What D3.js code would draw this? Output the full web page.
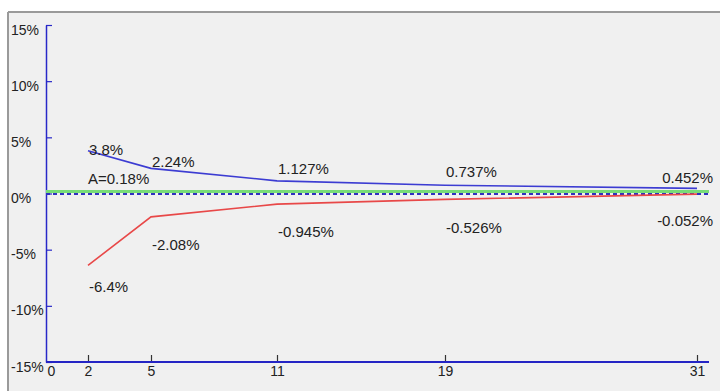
<!DOCTYPE html>
<html>
<head>
<meta charset="utf-8">
<script src="https://cdn.jsdelivr.net/npm/d3@7"></script>
<style>
  html, body { margin: 0; padding: 0; background: #fff; }
  svg { display: block; font-family: "Liberation Sans", Arial, sans-serif; }
</style>
</head>
<body>
<svg id="chart" width="720" height="391"></svg>
<script>
// data
var xTicks = [0, 2, 5, 11, 19, 31],
    yTicks = [15, 10, 5, 0, -5, -10, -15],
    nValues = [2, 5, 11, 19, 31],
    upperValues = [3.8, 2.24, 1.127, 0.737, 0.452],   // blue line, %
    lowerValues = [-6.4, -2.08, -0.945, -0.526, -0.052], // red line, %
    averageValue = 0.18; // green line, %

// label placement (pixels relative to the point)
var upperDy = [4, -1, -7, -8, -5],
    lowerDy = [27, 33, 33, 34, 32];

var svg = d3.select('#chart'),
    W = 720, H = 391;

var x = d3.scaleLinear().domain([0, 31]).range([46, 697]),
    y = d3.scaleLinear().domain([-15, 15]).range([362, 25]),
    xEnd = x(31) + 12;

// panel background + frame
svg.append('rect').attr('x', 8).attr('y', 12).attr('width', W - 8).attr('height', H - 12)
  .attr('fill', '#f0f0f0');
svg.append('line').attr('x1', 8).attr('x2', W).attr('y1', 12).attr('y2', 12)
  .attr('stroke', '#9a9a9a').attr('stroke-width', 2);
svg.append('line').attr('x1', 8).attr('x2', 8).attr('y1', 12).attr('y2', H)
  .attr('stroke', '#9a9a9a').attr('stroke-width', 2);

// y axis
var gy = svg.append('g')
  .attr('transform', 'translate(' + x(0) + ',0)')
  .call(d3.axisLeft(y).tickValues(yTicks).tickSizeInner(-6).tickSizeOuter(0)
    .tickFormat(function(d) { return d + '%'; }));
gy.select('.domain').attr('stroke', '#2828c8').attr('stroke-width', 1.5);
gy.selectAll('.tick line').attr('stroke', '#2828c8').attr('stroke-width', 1.2);
gy.selectAll('.tick text')
  .attr('x', 11 - x(0)).attr('dy', null).attr('y', 9)
  .attr('text-anchor', 'start').attr('fill', '#222').attr('font-size', 14)
  .attr('font-family', '"Liberation Sans", Arial, sans-serif');

// x axis
var gx = svg.append('g')
  .attr('transform', 'translate(0,' + y(-15) + ')')
  .call(d3.axisBottom(x).tickValues(xTicks).tickSizeInner(-7).tickSizeOuter(0)
    .tickFormat(d3.format('d')));
gx.select('.domain').remove();
gx.selectAll('.tick line').attr('stroke', '#333').attr('stroke-width', 1.2)
  .filter(function(d) { return d === 0; }).remove();
gx.selectAll('.tick text')
  .attr('y', 14).attr('dy', null).attr('fill', '#222').attr('font-size', 14)
  .attr('font-family', '"Liberation Sans", Arial, sans-serif')
  .attr('dx', function(d) { return d === 0 ? 5 : 0; });
svg.append('line')
  .attr('x1', x(0)).attr('x2', xEnd).attr('y1', y(-15)).attr('y2', y(-15))
  .attr('stroke', '#2424c4').attr('stroke-width', 2);

// average (green) and zero (dashed) lines
svg.append('line')
  .attr('x1', x(0)).attr('x2', xEnd).attr('y1', y(averageValue)).attr('y2', y(averageValue))
  .attr('stroke', '#78dc78').attr('stroke-width', 3);
svg.append('line')
  .attr('x1', x(0)).attr('x2', xEnd).attr('y1', y(0) + 0.5).attr('y2', y(0) + 0.5)
  .attr('stroke', '#3030c0').attr('stroke-width', 1.8).attr('stroke-dasharray', '4,3');

var line = d3.line()
  .x(function(d) { return x(d[0]); })
  .y(function(d) { return y(d[1]); });

var upper = d3.zip(nValues, upperValues),
    lower = d3.zip(nValues, lowerValues);

svg.append('path').datum(upper).attr('d', line)
  .attr('fill', 'none').attr('stroke', '#3c3cd2').attr('stroke-width', 1.6);
svg.append('path').datum(lower).attr('d', line)
  .attr('fill', 'none').attr('stroke', '#e84848').attr('stroke-width', 1.6);

// value labels
function labels(data, dys) {
  svg.append('g').selectAll('text')
    .data(data).enter().append('text')
    .attr('x', function(d, i) { return i === data.length - 1 ? W - 7 : x(d[0]) + 1; })
    .attr('y', function(d, i) { return y(d[1]) + dys[i]; })
    .attr('text-anchor', function(d, i) { return i === data.length - 1 ? 'end' : 'start'; })
    .attr('font-size', 15).attr('fill', '#222')
    .text(function(d) { return d[1] + '%'; });
}
labels(upper, upperDy);
labels(lower, lowerDy);

svg.append('text')
  .attr('x', x(nValues[0])).attr('y', y(averageValue) - 7)
  .attr('font-size', 15).attr('fill', '#222')
  .text('A=' + averageValue + '%');
</script>
</body>
</html>
